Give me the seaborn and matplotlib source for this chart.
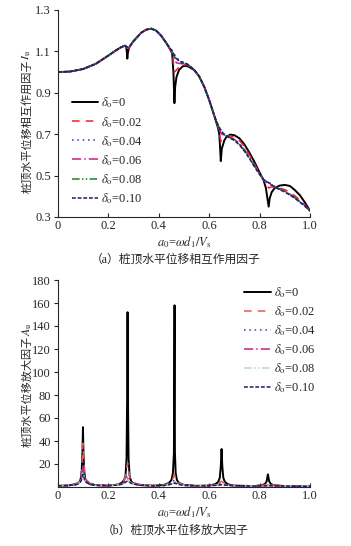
import numpy as np
import pandas as pd
import matplotlib
matplotlib.use('Agg')
import matplotlib.pyplot as plt
import seaborn as sns

# ---- (a) interaction factor I_u ----
labels = ['0', '0.02', '0.04', '0.06', '0.08', '0.10']

x_iu_0 = [0, 0.05, 0.1, 0.15, 0.2, 0.23, 0.25, 0.265, 0.27, 0.273, 0.275, 0.277, 0.28, 0.285,
          0.3, 0.33, 0.35, 0.37, 0.39, 0.41, 0.43, 0.445, 0.453, 0.458, 0.462, 0.465, 0.47, 0.48,
          0.495, 0.51, 0.52, 0.54, 0.56, 0.58, 0.6, 0.62, 0.635, 0.64, 0.643, 0.646, 0.65, 0.66,
          0.67, 0.685, 0.7, 0.72, 0.74, 0.76, 0.78, 0.8, 0.815, 0.825, 0.831, 0.836, 0.84, 0.848,
          0.86, 0.88, 0.9, 0.92, 0.94, 0.96, 0.98, 1.0]
iu_0 = [1.0, 1.003, 1.015, 1.04, 1.08, 1.105, 1.12, 1.128, 1.125, 1.1, 1.065, 1.09, 1.11, 1.125,
        1.15, 1.19, 1.205, 1.21, 1.2, 1.175, 1.14, 1.11, 1.09, 1.0, 0.85, 0.93, 0.975, 1.01,
        1.028, 1.03, 1.025, 1.01, 0.98, 0.93, 0.865, 0.79, 0.73, 0.7, 0.64, 0.57, 0.63, 0.67,
        0.69, 0.698, 0.695, 0.68, 0.65, 0.61, 0.565, 0.515, 0.48, 0.44, 0.39, 0.35, 0.39, 0.42,
        0.44, 0.452, 0.455, 0.45, 0.43, 0.405, 0.37, 0.33]

x_iu = [0, 0.05, 0.1, 0.15, 0.2, 0.23, 0.25, 0.265, 0.275, 0.285, 0.3, 0.33, 0.35, 0.37, 0.39,
        0.41, 0.43, 0.445, 0.455, 0.462, 0.47, 0.48, 0.495, 0.51, 0.52, 0.54, 0.56, 0.58, 0.6,
        0.62, 0.635, 0.646, 0.655, 0.67, 0.68, 0.7, 0.72, 0.74, 0.76, 0.78, 0.8, 0.815, 0.825,
        0.836, 0.845, 0.86, 0.88, 0.9, 0.92, 0.94, 0.96, 0.98, 1.0]
iu_02 = [1.0, 1.003, 1.015, 1.04, 1.08, 1.105, 1.12, 1.128, 1.10, 1.125, 1.15, 1.19, 1.205, 1.21, 1.2,
         1.175, 1.14, 1.11, 1.08, 1.0, 1.01, 1.025, 1.035, 1.035, 1.03, 1.012, 0.98, 0.93, 0.865,
         0.79, 0.74, 0.665, 0.68, 0.69, 0.692, 0.685, 0.67, 0.64, 0.6, 0.555, 0.51, 0.48, 0.46,
         0.44, 0.445, 0.445, 0.44, 0.432, 0.42, 0.402, 0.382, 0.358, 0.33]
iu_04 = [1.0, 1.003, 1.015, 1.04, 1.08, 1.105, 1.12, 1.128, 1.115, 1.125, 1.15, 1.19, 1.205, 1.21, 1.2,
         1.175, 1.14, 1.115, 1.10, 1.085, 1.07, 1.06, 1.05, 1.042, 1.032, 1.012, 0.98, 0.93, 0.865,
         0.79, 0.745, 0.72, 0.70, 0.69, 0.685, 0.675, 0.655, 0.625, 0.59, 0.55, 0.51, 0.485, 0.475,
         0.468, 0.46, 0.448, 0.435, 0.425, 0.41, 0.395, 0.375, 0.355, 0.33]
iu_06 = [1.0, 1.003, 1.015, 1.04, 1.08, 1.105, 1.12, 1.128, 1.115, 1.125, 1.15, 1.19, 1.205, 1.21, 1.2,
         1.175, 1.14, 1.11, 1.09, 1.06, 1.045, 1.042, 1.04, 1.038, 1.032, 1.012, 0.98, 0.93, 0.865,
         0.79, 0.74, 0.705, 0.695, 0.69, 0.685, 0.675, 0.655, 0.625, 0.59, 0.55, 0.51, 0.482, 0.47,
         0.462, 0.455, 0.447, 0.435, 0.425, 0.41, 0.395, 0.375, 0.355, 0.33]
iu_08 = [1.0, 1.003, 1.015, 1.04, 1.08, 1.105, 1.12, 1.128, 1.118, 1.125, 1.15, 1.19, 1.205, 1.21, 1.2,
         1.175, 1.14, 1.112, 1.095, 1.075, 1.06, 1.055, 1.045, 1.04, 1.032, 1.012, 0.98, 0.93, 0.865,
         0.79, 0.742, 0.715, 0.70, 0.69, 0.685, 0.672, 0.65, 0.62, 0.585, 0.545, 0.508, 0.482, 0.47,
         0.465, 0.457, 0.446, 0.434, 0.423, 0.408, 0.393, 0.373, 0.353, 0.33]
iu_10 = [1.0, 1.003, 1.015, 1.04, 1.08, 1.105, 1.12, 1.128, 1.12, 1.125, 1.15, 1.19, 1.205, 1.21, 1.2,
         1.175, 1.14, 1.115, 1.10, 1.08, 1.065, 1.055, 1.045, 1.04, 1.032, 1.012, 0.98, 0.93, 0.865,
         0.79, 0.745, 0.72, 0.705, 0.69, 0.683, 0.67, 0.648, 0.618, 0.582, 0.542, 0.505, 0.482, 0.472,
         0.466, 0.458, 0.445, 0.432, 0.421, 0.406, 0.391, 0.371, 0.352, 0.33]

# ---- (b) amplification factor A_u ----
x_au_0 = [0, 0.04, 0.07, 0.085, 0.09, 0.094, 0.097, 0.099, 0.101, 0.104,
          0.108, 0.115, 0.13, 0.16, 0.2, 0.24, 0.255, 0.263, 0.268, 0.272,
          0.2745, 0.276, 0.2775, 0.28, 0.284, 0.29, 0.3, 0.33, 0.38, 0.42,
          0.44, 0.45, 0.456, 0.46, 0.4625, 0.464, 0.467, 0.472, 0.48, 0.5,
          0.55, 0.6, 0.625, 0.636, 0.642, 0.646, 0.649, 0.652, 0.656, 0.662,
          0.675, 0.7, 0.78, 0.81, 0.822, 0.828, 0.833, 0.838, 0.844, 0.855,
          0.9, 1.0]
au_0 = [1, 1.3, 2.5, 4, 7, 14, 30, 52, 30, 14,
        7, 4, 2.2, 1.4, 1.2, 2.2, 4, 6.5, 10, 25,
        80, 152, 80, 25, 10, 5, 3, 1.6, 1.1, 1.8,
        3.5, 6, 12, 30, 158, 30, 12, 6, 3.5, 1.8,
        1, 1.2, 2.5, 4.5, 8, 18, 33, 18, 8, 4.5,
        2.3, 1.2, 0.8, 1.6, 2.8, 5, 11, 5, 2.8, 1.6,
        0.8, 0.4]

x_au = [0, 0.04, 0.07, 0.082, 0.089, 0.094, 0.097, 0.099, 0.102, 0.106,
        0.112, 0.125, 0.15, 0.2, 0.24, 0.258, 0.266, 0.272, 0.276, 0.28,
        0.286, 0.295, 0.32, 0.37, 0.42, 0.445, 0.455, 0.462, 0.469, 0.48,
        0.5, 0.55, 0.6, 0.63, 0.641, 0.648, 0.655, 0.67, 0.7, 0.78,
        0.815, 0.826, 0.833, 0.84, 0.855, 0.9, 1.0]
au_02 = [1, 1.3, 2.3, 4, 7, 13, 26, 38, 24, 12,
         6.5, 3.5, 1.8, 1.2, 2.2, 4.5, 8, 15, 21, 15,
         8, 4.5, 2.2, 1.1, 1.5, 3.5, 6.5, 11, 6.5, 3.5,
         1.8, 1, 1.2, 2.3, 3.8, 5, 3.8, 2.3, 1.2, 0.8,
         1.6, 2.3, 2.8, 2.3, 1.6, 0.8, 0.4]
au_04 = [1, 1.3, 2.2, 3.6, 6, 10, 17, 22, 15, 9,
         5.5, 3.2, 1.7, 1.2, 2, 3.7, 5.8, 8.5, 10, 8.5,
         5.8, 3.7, 2, 1.1, 1.4, 2.8, 4.5, 6, 4.5, 2.8,
         1.6, 1, 1.2, 1.9, 2.6, 3, 2.6, 1.9, 1.1, 0.8,
         1.3, 1.5, 1.6, 1.5, 1.3, 0.8, 0.4]
au_06 = [1, 1.3, 2.1, 3.3, 5.3, 8.5, 13.5, 17, 12, 7.5,
         4.8, 3, 1.7, 1.2, 1.9, 3.3, 4.8, 6.6, 7.5, 6.6,
         4.8, 3.3, 1.9, 1.1, 1.3, 2.5, 3.6, 4.5, 3.6, 2.5,
         1.5, 1, 1.2, 1.7, 2.2, 2.5, 2.2, 1.7, 1.1, 0.8,
         1.1, 1.25, 1.3, 1.25, 1.1, 0.8, 0.4]
au_08 = [1, 1.3, 2, 3.1, 4.8, 7.2, 11, 13, 10, 6.5,
         4.3, 2.8, 1.6, 1.2, 1.8, 3, 4.2, 5.4, 6, 5.4,
         4.2, 3, 1.8, 1.1, 1.3, 2.3, 3.2, 3.8, 3.2, 2.3,
         1.4, 1, 1.2, 1.6, 2, 2.2, 2, 1.6, 1.1, 0.8,
         1.05, 1.15, 1.2, 1.15, 1.05, 0.8, 0.4]
au_10 = [1, 1.3, 1.9, 2.9, 4.4, 6.4, 9.4, 11, 8.8, 5.9,
         4, 2.7, 1.6, 1.2, 1.7, 2.8, 3.8, 4.8, 5.2, 4.8,
         3.8, 2.8, 1.7, 1.1, 1.3, 2.2, 2.9, 3.3, 2.9, 2.2,
         1.4, 1, 1.2, 1.5, 1.8, 2, 1.8, 1.5, 1.1, 0.8,
         1, 1.08, 1.1, 1.08, 1, 0.8, 0.4]

sns.set_style('ticks')
plt.rcParams['font.family'] = ['Liberation Serif', 'Noto Sans CJK SC']
plt.rcParams['mathtext.fontset'] = 'stix'
plt.rcParams['font.size'] = 9

colors_a = ['black', '#e8262a', '#3b3ba8', '#c8207e', '#1e7d32', '#1a1a6e']
colors_b = ['black', '#e05a5a', '#3b3ba8', '#c8207e', '#b8d8b8', '#1a1a6e']
dashes = [None, (5, 4), (1, 2.5), (6, 2, 1, 2), (5, 1.5, 1, 1.5, 1, 1.5), (2.5, 1.2)]
widths = [1.4, 1.1, 1.1, 1.1, 1.1, 1.1]

W, H = 351, 546
fig = plt.figure(figsize=(W / 100, H / 100), dpi=100)
ax1 = fig.add_axes([58 / W, 1 - 217 / H, 252 / W, 207 / H])
ax2 = fig.add_axes([58 / W, 1 - 487 / H, 252 / W, 207 / H])

series_a = [(x_iu_0, iu_0), (x_iu, iu_02), (x_iu, iu_04), (x_iu, iu_06), (x_iu, iu_08), (x_iu, iu_10)]
series_b = [(x_au_0, au_0), (x_au, au_02), (x_au, au_04), (x_au, au_06), (x_au, au_08), (x_au, au_10)]

for ax, series, colors in [(ax1, series_a, colors_a), (ax2, series_b, colors_b)]:
    for i, (xs, ys) in enumerate(series):
        lab = r'$\delta_{\rm o}$=' + labels[i]
        sns.lineplot(x=xs, y=ys, ax=ax, color=colors[i], lw=widths[i], label=lab,
                     sort=False, estimator=None)
        line = ax.get_lines()[-1]
        if dashes[i] is not None:
            line.set_dashes(dashes[i])
    sns.despine(ax=ax)
    ax.tick_params(axis='x', direction='in', length=3, width=0.8, pad=2)
    ax.tick_params(axis='y', direction='out', length=3, width=0.8, pad=2)
    ax.set_xlim(0, 1.0)
    ax.set_xticks([0, 0.2, 0.4, 0.6, 0.8, 1.0])
    ax.set_xticklabels(['0', '0.2', '0.4', '0.6', '0.8', '1.0'])
    ax.set_xlabel(r'$a_0$=$\omega d_1/V_{\rm s}$', labelpad=2)

ax1.set_ylim(0.3, 1.3)
ax1.set_yticks([0.3, 0.5, 0.7, 0.9, 1.1, 1.3])
ax1.legend(loc='lower left', bbox_to_anchor=(0.01, 0.0), frameon=False, handlelength=2.1,
           handletextpad=0.25, labelspacing=0.34, fontsize=9)

ax2.set_ylim(0, 180)
ax2.set_yticks([20, 40, 60, 80, 100, 120, 140, 160, 180])
ax2.legend(loc='upper right', bbox_to_anchor=(1.065, 1.03), frameon=False, handlelength=2.1,
           handletextpad=0.25, labelspacing=0.34, fontsize=9)

# y labels: Chinese part as plain text, symbol part as mathtext stacked above it
fig.canvas.draw()
rend = fig.canvas.get_renderer()
for cjk, sym, y_bottom in [('桩顶水平位移相互作用因子', r'$I_{\rm u}$', 193),
                           ('桩顶水平位移放大因子', r'$A_{\rm u}$', 447)]:
    t = fig.text(27 / W, 1 - y_bottom / H, cjk, rotation=90, ha='center', va='bottom', fontsize=8)
    bb = t.get_window_extent(rend)
    fig.text(27 / W, bb.y1 / H, sym, rotation=90, ha='center', va='bottom', fontsize=8.5)

fig.text(0.5, 1 - 260 / H, '（a）桩顶水平位移相互作用因子', ha='center', va='center', fontsize=8.5)
fig.text(0.5, 1 - 531 / H, '（b）桩顶水平位移放大因子', ha='center', va='center', fontsize=8.5)

fig.savefig('out.png', dpi=100)
